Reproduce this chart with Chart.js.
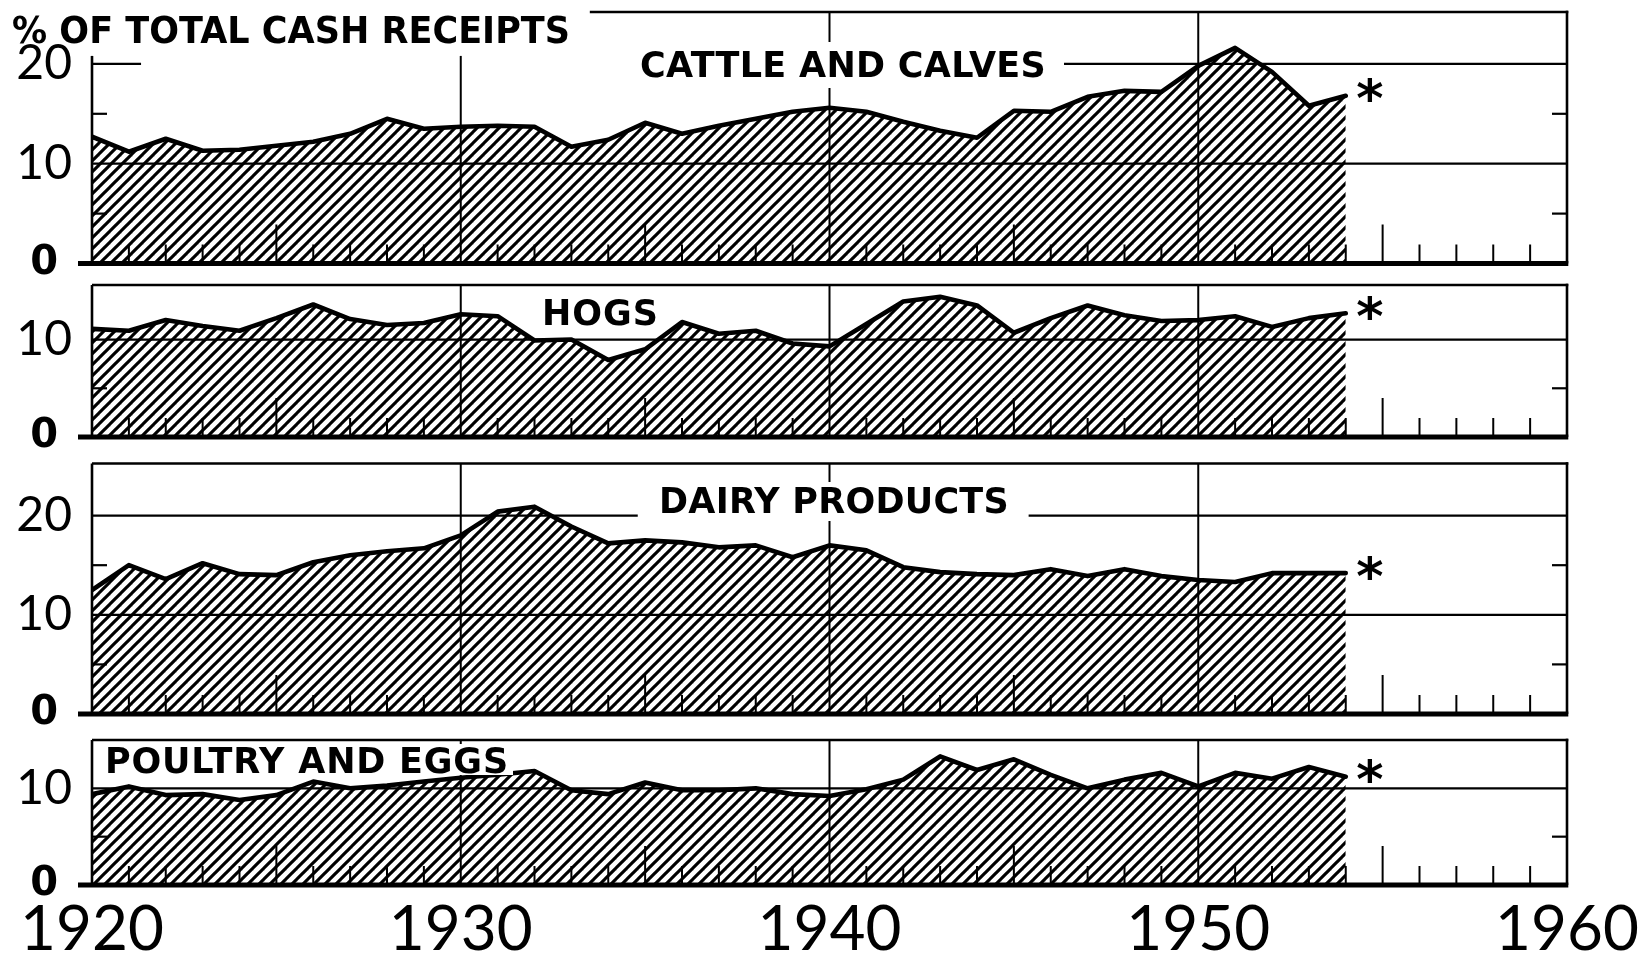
<!DOCTYPE html>
<html>
<head>
<meta charset="utf-8">
<script src="https://cdn.jsdelivr.net/npm/chart.js@4.4.1/dist/chart.umd.min.js"></script>
<style>
  body { margin: 0; background: #fff; }
  #wrap { position: relative; width: 1640px; height: 957px; overflow: hidden; background: #fff; }
  canvas { position: absolute; left: 0; }
</style>
</head>
<body>
<div id="wrap">
  <canvas id="cattle" width="1640" height="282" style="top:0px"></canvas>
  <canvas id="hogs" width="1640" height="185" style="top:270px"></canvas>
  <canvas id="dairy" width="1640" height="282" style="top:450px"></canvas>
  <canvas id="poultry" width="1640" height="232" style="top:725px"></canvas>
</div>
<script>
// years on the x axis
const years = [1920, 1921, 1922, 1923, 1924, 1925, 1926, 1927, 1928, 1929,
  1930, 1931, 1932, 1933, 1934, 1935, 1936, 1937, 1938, 1939,
  1940, 1941, 1942, 1943, 1944, 1945, 1946, 1947, 1948, 1949,
  1950, 1951, 1952, 1953, 1954];

// % of total cash receipts
const cattle = [12.7, 11.2, 12.5, 11.3, 11.4, 11.8, 12.2, 13.0, 14.5, 13.5,
  13.7, 13.8, 13.7, 11.7, 12.4, 14.1, 13.0, 13.8, 14.5, 15.2,
  15.6, 15.2, 14.2, 13.3, 12.6, 15.3, 15.2, 16.7, 17.3, 17.2,
  19.8, 21.6, 19.2, 15.8, 16.8];
const hogs = [11.1, 10.9, 12.0, 11.4, 10.9, 12.2, 13.6, 12.1, 11.5, 11.7,
  12.6, 12.4, 9.9, 10.0, 7.9, 9.0, 11.8, 10.6, 10.9, 9.6,
  9.3, 11.6, 13.9, 14.4, 13.5, 10.7, 12.2, 13.5, 12.5, 11.9,
  12.0, 12.4, 11.3, 12.2, 12.7];
const dairy = [12.5, 15.0, 13.6, 15.2, 14.1, 14.0, 15.3, 16.0, 16.4, 16.7,
  18.0, 20.4, 20.9, 18.9, 17.2, 17.5, 17.3, 16.8, 17.0, 15.8,
  17.0, 16.5, 14.8, 14.3, 14.1, 14.0, 14.6, 13.9, 14.6, 13.9,
  13.5, 13.3, 14.2, 14.2, 14.2];
const poultry = [9.4, 10.2, 9.3, 9.4, 8.8, 9.3, 10.7, 10.0, 10.3, 10.7,
  11.1, 11.4, 11.8, 9.8, 9.4, 10.6, 9.8, 9.8, 10.0, 9.4,
  9.2, 9.9, 10.9, 13.3, 11.9, 13.0, 11.4, 10.0, 10.9, 11.6,
  10.2, 11.6, 11.0, 12.2, 11.2];

// tick labels
const xTickLabels = [1920, 1930, 1940, 1950, 1960];
const yTicksWide = [0, 10, 20];
const yTicksNarrow = [0, 10];

function line(ctx, x0, y0, x1, y1) {
  ctx.beginPath();
  ctx.moveTo(x0, y0);
  ctx.lineTo(x1, y1);
  ctx.stroke();
}

// bold caption stretched/squeezed to the width it has in the picture
function fitText(ctx, text, left, right, baseline, size) {
  ctx.font = "bold " + size + "px 'DejaVu Sans'";
  ctx.textAlign = "left";
  ctx.textBaseline = "alphabetic";
  ctx.letterSpacing = "0px";
  const target = right - left;
  const w = ctx.measureText(text).width;
  if (w > target) {
    ctx.fillText(text, left, baseline, target);
  } else {
    ctx.letterSpacing = ((target - w) / text.length).toFixed(2) + "px";
    ctx.fillText(text, left, baseline);
    ctx.letterSpacing = "0px";
  }
}

// 45 degree hatching, one stroke every 11px
function hatch(ctx) {
  const s = 11;
  const tile = document.createElement("canvas");
  tile.width = s; tile.height = s;
  const t = tile.getContext("2d");
  t.strokeStyle = "#000";
  t.lineWidth = 3.1;
  for (let c = -s; c <= s; c += s) {
    line(t, c - 1, s + 1, c + s + 1, -1);
  }
  return ctx.createPattern(tile, "repeat");
}

const decor = {
  id: "decor",
  beforeDatasetsDraw(chart, args, o) {
    const { ctx, chartArea: a, scales: { x, y } } = chart;
    ctx.save();
    ctx.strokeStyle = "#000";
    ctx.lineCap = "butt";

    // horizontal reference lines
    ctx.lineWidth = 2.2;
    o.hLines.forEach(h => {
      (h.segs || [[1920, 1960]]).forEach(([s0, s1]) => {
        const py = y.getPixelForValue(h.v);
        line(ctx, x.getPixelForValue(s0), py, x.getPixelForValue(s1), py);
      });
    });

    // decade lines
    ctx.lineWidth = 2;
    o.vLines.forEach(v => {
      const px = x.getPixelForValue(v.x);
      line(ctx, px, y.getPixelForValue(v.top ?? o.yMax), px, y.getPixelForValue(0));
    });

    // frame
    ctx.lineWidth = 2.6;
    line(ctx, a.left, y.getPixelForValue(o.leftTop ?? o.yMax), a.left, a.bottom);
    line(ctx, a.right, a.top - 1.3, a.right, a.bottom);
    line(ctx, x.getPixelForValue(o.topFrom ?? 1920), a.top, a.right + 1.3, a.top);

    // small side ticks
    ctx.lineWidth = 2.2;
    o.sideTicks.forEach(v => {
      const py = y.getPixelForValue(v);
      line(ctx, a.left, py, a.left + 15, py);
      line(ctx, a.right - 15, py, a.right, py);
    });

    // yearly ticks on the baseline
    ctx.lineWidth = 2;
    for (let yr = 1921; yr < 1960; yr++) {
      if (yr % 10 === 0) continue;
      const px = x.getPixelForValue(yr);
      const h = yr % 5 === 0 ? 39 : 19;
      line(ctx, px, a.bottom, px, a.bottom - h);
    }
    ctx.restore();
  },
  afterDatasetsDraw(chart, args, o) {
    const { ctx, chartArea: a, scales: { x, y } } = chart;
    ctx.save();
    // heavy zero line
    ctx.strokeStyle = "#000";
    ctx.lineWidth = 5;
    line(ctx, a.left - 14, a.bottom, a.right + 1.3, a.bottom);

    // captions
    ctx.fillStyle = "#000";
    o.labels.forEach(l => {
      if (l.box) {
        ctx.fillStyle = "#fff";
        ctx.fillRect(l.box[0], l.box[1], l.box[2] - l.box[0], l.box[3] - l.box[1]);
        ctx.fillStyle = "#000";
      }
      fitText(ctx, l.text, l.left, l.right, l.baseline, l.size || 35);
    });

    // asterisk after the last year
    const data = chart.data.datasets[0].data;
    const last = data.length - 1;
    const px = x.getPixelForValue(years[last]) + 24;
    const py = y.getPixelForValue(data[last]) - 6;
    ctx.font = "bold 52px 'DejaVu Sans'";
    ctx.textAlign = "center";
    ctx.textBaseline = "alphabetic";
    const m = ctx.measureText("*");
    const off = (m.actualBoundingBoxAscent - m.actualBoundingBoxDescent) / 2;
    ctx.fillText("*", px, py + off);
    ctx.restore();
  }
};

function makePanel(id, series, p) {
  const canvas = document.getElementById(id);
  const ctx = canvas.getContext("2d");
  return new Chart(ctx, {
    type: "line",
    data: {
      labels: years,
      datasets: [{
        data: series,
        borderColor: "#000",
        borderWidth: 4.6,
        borderJoinStyle: "round",
        borderCapStyle: "round",
        pointRadius: 0,
        tension: 0,
        fill: "origin",
        backgroundColor: hatch(ctx),
      }],
    },
    options: {
      responsive: false,
      animation: false,
      events: [],
      layout: { padding: p.padding },
      plugins: {
        legend: { display: false },
        tooltip: { enabled: false },
        decor: p,
      },
      scales: {
        x: {
          type: "linear",
          min: 1920,
          max: 1960,
          display: !!p.showX,
          afterBuildTicks: (s) => { s.ticks = xTickLabels.map(v => ({ value: v })); },
          afterFit: (s) => {
            if (p.showX) s.height = 72;
            s.paddingLeft = 0; s.paddingRight = 0;
          },
          grid: { display: false, drawTicks: false },
          border: { display: false },
          ticks: {
            color: "#000",
            padding: 8,
            maxRotation: 0,
            autoSkip: false,
            font: { family: "Lato", size: 62 },
            callback: (v) => String(v),
          },
        },
        y: {
          min: 0,
          max: p.yMax,
          afterBuildTicks: (s) => { s.ticks = p.yTicks.map(v => ({ value: v })); },
          afterFit: (s) => { s.width = 92; s.paddingTop = 0; s.paddingBottom = 0; },
          grid: { display: false, drawTicks: false },
          border: { display: false },
          ticks: {
            color: "#000",
            padding: 20,
            crossAlign: "center",
            font: (c) => (c.tick && c.tick.value === 0)
              ? { family: "DejaVu Sans", weight: "bold", size: 40 }
              : { family: "Lato", size: 48 },
          },
        },
      },
    },
    plugins: [decor],
  });
}

makePanel("cattle", cattle, {
  padding: { top: 12, bottom: 18.5, left: 0, right: 73 },
  yMax: 25.2,
  yTicks: yTicksWide,
  hLines: [{ v: 10 }, { v: 20, segs: [[1920, 1921.33], [1946.35, 1960]] }],
  vLines: [{ x: 1930, top: 20.8 }, { x: 1940 }, { x: 1950 }],
  leftTop: 20.8,
  topFrom: 1933.5,
  sideTicks: [5, 15],
  labels: [
    { text: "% OF TOTAL CASH RECEIPTS", left: 12, right: 570, baseline: 43, size: 37 },
    { text: "CATTLE AND CALVES", left: 640, right: 1046, baseline: 77, box: [622, 42, 1064, 88] },
  ],
});

makePanel("hogs", hogs, {
  padding: { top: 15, bottom: 18, left: 0, right: 73 },
  yMax: 15.6,
  yTicks: yTicksNarrow,
  hLines: [{ v: 10 }],
  vLines: [{ x: 1930 }, { x: 1940 }, { x: 1950 }],
  sideTicks: [5],
  labels: [
    { text: "HOGS", left: 542, right: 659, baseline: 55 },
  ],
});

makePanel("dairy", dairy, {
  padding: { top: 13.5, bottom: 18, left: 0, right: 73 },
  yMax: 25.25,
  yTicks: yTicksWide,
  hLines: [{ v: 10 }, { v: 20, segs: [[1920, 1934.8], [1945.4, 1960]] }],
  vLines: [{ x: 1930 }, { x: 1940 }, { x: 1950 }],
  sideTicks: [5, 15],
  labels: [
    { text: "DAIRY PRODUCTS", left: 659, right: 1009, baseline: 63, box: [640, 32, 1028, 71] },
  ],
});

makePanel("poultry", poultry, {
  padding: { top: 15, bottom: 0, left: 0, right: 73 },
  showX: true,
  yMax: 15.0,
  yTicks: yTicksNarrow,
  hLines: [{ v: 10 }],
  vLines: [{ x: 1930 }, { x: 1940 }, { x: 1950 }],
  sideTicks: [5],
  labels: [
    { text: "POULTRY AND EGGS", left: 105, right: 509, baseline: 48, box: [99, 19, 513, 50] },
  ],
});
</script>
</body>
</html>
